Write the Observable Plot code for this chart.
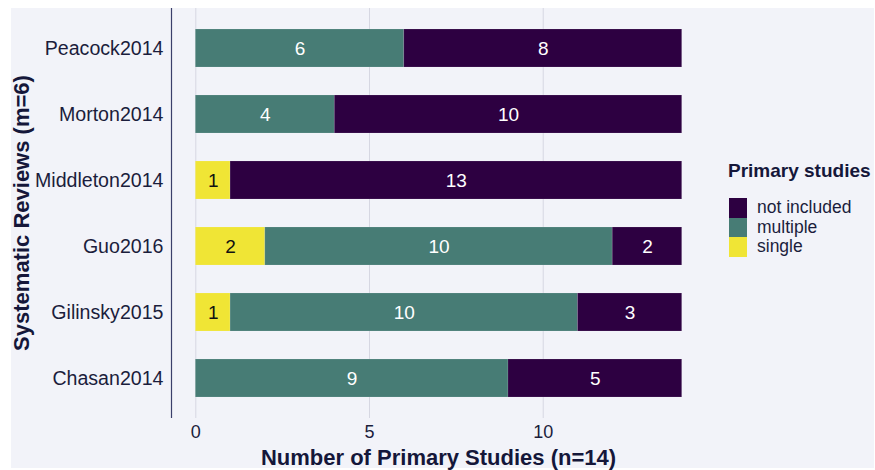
<!DOCTYPE html>
<html>
<head>
<meta charset="utf-8">
<script src="https://cdn.jsdelivr.net/npm/d3@7"></script>
<script src="https://cdn.jsdelivr.net/npm/@observablehq/plot@0.6"></script>
<style>
  html, body { margin: 0; padding: 0; background: #ffffff; }
  #wrap { position: relative; width: 875px; height: 470px; background: #ffffff; overflow: hidden;
          font-family: "Liberation Sans", Arial, sans-serif; color: #1b1d3c; }
  #panel { position: absolute; left: 11px; top: 8px; width: 863px; height: 460px; background: #f2f3f9; }
  #chart { position: absolute; left: 0; top: 0; }
  .xtitle { position: absolute; left: 171px; width: 535px; top: 445px; text-align: center;
            font-size: 22px; font-weight: bold; line-height: 26px; color: #15173a; }
  .ytitle { position: absolute; left: 22px; top: 213px; transform: translate(-50%, -50%) rotate(-90deg);
            white-space: nowrap; font-size: 22px; font-weight: bold; line-height: 26px; color: #15173a; }
  #legend { position: absolute; left: 728px; top: 160px; }
  #legend .lt { font-size: 19px; font-weight: bold; line-height: 22px; color: #15173a; margin-bottom: 16px; }
  #legend .row { display: flex; align-items: center; height: 19.5px; }
  #legend .sw { width: 18px; height: 19.5px; margin-left: 1px; margin-right: 10px; }
  #legend .lab { font-size: 17.5px; line-height: 19px; color: #1b1d3c; }
</style>
</head>
<body>
<div id="wrap">
  <div id="panel"></div>
  <div id="chart"></div>
  <div class="xtitle">Number of Primary Studies (n=14)</div>
  <div class="ytitle">Systematic Reviews (m=6)</div>
  <div id="legend"></div>
</div>
<script>
const reviews = ["Peacock2014", "Morton2014", "Middleton2014", "Guo2016", "Gilinsky2015", "Chasan2014"];
const singleCounts = [0, 0, 1, 2, 1, 0];
const multipleCounts = [6, 4, 0, 10, 10, 9];
const notIncludedCounts = [8, 10, 13, 2, 3, 5];
const types = ["not included", "multiple", "single"];
const typeColors = ["#2d0041", "#477c75", "#f0e535"];
const xTicks = [0, 5, 10];
const xTitle = "Number of Primary Studies (n=14)";
const yTitle = "Systematic Reviews (m=6)";
const legendTitle = "Primary studies";

const rows = [];
reviews.forEach((r, i) => {
  [["single", singleCounts[i]], ["multiple", multipleCounts[i]], ["not included", notIncludedCounts[i]]]
    .forEach(([t, v]) => { if (v > 0) rows.push({review: r, type: t, value: v}); });
});
const stackOrder = ["single", "multiple", "not included"];

const textOpts = {x: "value", y: "review", z: "type", order: stackOrder, text: d => String(d.value),
  fontSize: 19, fontFamily: "Liberation Sans, Arial, sans-serif"};

const plot = Plot.plot({
  width: 875, height: 470,
  marginLeft: 171, marginRight: 169, marginTop: 8, marginBottom: 52,
  style: {background: "transparent", fontFamily: "Liberation Sans, Arial, sans-serif", color: "#1b1d3c"},
  x: {domain: [-0.7, 14.7], label: null},
  y: {domain: reviews, paddingInner: 0.42, paddingOuter: 0.31, label: null},
  color: {domain: types, range: typeColors},
  marks: [
    Plot.gridX(xTicks, {stroke: "#d6d7e2", strokeOpacity: 1, strokeWidth: 1}),
    Plot.barX(rows, Plot.stackX({x: "value", y: "review", fill: "type", order: stackOrder,
      stroke: "#ffffff", strokeOpacity: 0.15, strokeWidth: 0.8})),
    Plot.text(rows, Plot.filter(d => d.type === "single", Plot.stackX({...textOpts, fill: "#111111"}))),
    Plot.text(rows, Plot.filter(d => d.type !== "single", Plot.stackX({...textOpts, fill: "#ffffff"}))),
    Plot.axisX({ticks: xTicks, tickSize: 0, tickPadding: 7, fontSize: 18, label: null, fill: "#1b1d3c"}),
    Plot.axisY({tickSize: 0, tickPadding: 8, fontSize: 19.6, label: null, fill: "#1b1d3c"}),
    Plot.ruleX([-0.7], {stroke: "#3b3f6b", strokeWidth: 1.2})
  ]
});
document.getElementById("chart").appendChild(plot);

document.querySelector(".xtitle").textContent = xTitle;
document.querySelector(".ytitle").textContent = yTitle;
const lg = document.getElementById("legend");
const lt = document.createElement("div"); lt.className = "lt"; lt.textContent = legendTitle; lg.appendChild(lt);
types.forEach((t, i) => {
  const row = document.createElement("div"); row.className = "row";
  const sw = document.createElement("div"); sw.className = "sw"; sw.style.background = typeColors[i];
  const lab = document.createElement("div"); lab.className = "lab"; lab.textContent = t;
  row.appendChild(sw); row.appendChild(lab); lg.appendChild(row);
});
</script>
</body>
</html>
